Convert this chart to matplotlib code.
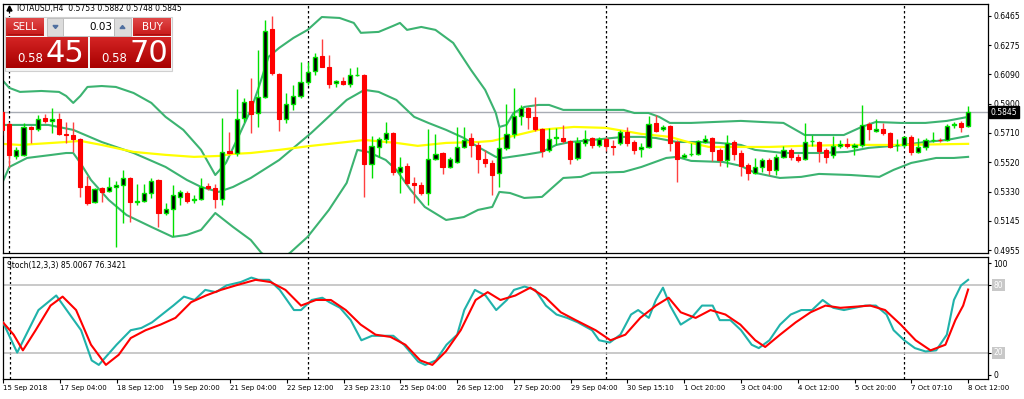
import matplotlib
matplotlib.use('Agg')
import matplotlib.pyplot as plt
import numpy as np
from matplotlib.patches import Rectangle, Polygon
import matplotlib.transforms as mtransforms

plt.rcParams['font.family'] = ['DejaVu Sans']

# ---------------- data ----------------
symbol_title = "IOTAUSD,H4  0.5753 0.5882 0.5748 0.5845"
opens = [0.5846, 0.5768, 0.5562, 0.5569, 0.5749, 0.5736, 0.5807, 0.5788, 0.5801, 0.5704,
         0.5697, 0.5672, 0.5368, 0.5265, 0.5355, 0.5336, 0.5362, 0.5375, 0.5420, 0.5268,
         0.5272, 0.5323, 0.5407, 0.5194, 0.5220, 0.5298, 0.5323, 0.5278, 0.5285, 0.5368,
         0.5355, 0.5285, 0.5594, 0.5581, 0.5807, 0.5917, 0.5839, 0.5943, 0.6381, 0.6091,
         0.5801, 0.5897, 0.5949, 0.6039, 0.6110, 0.6207, 0.6136, 0.6033, 0.6046, 0.6026,
         0.6081, 0.6085, 0.5510, 0.5620, 0.5672, 0.5710, 0.5459, 0.5498, 0.5388, 0.5375,
         0.5323, 0.5543, 0.5581, 0.5491, 0.5523, 0.5620, 0.5678, 0.5633, 0.5543, 0.5517,
         0.5453, 0.5614, 0.5704, 0.5820, 0.5872, 0.5814, 0.5736, 0.5601, 0.5675, 0.5678,
         0.5659, 0.5549, 0.5646, 0.5678, 0.5633, 0.5672, 0.5627, 0.5646, 0.5717, 0.5652,
         0.5607, 0.5620, 0.5775, 0.5736, 0.5756, 0.5652, 0.5556, 0.5572, 0.5575, 0.5652,
         0.5678, 0.5601, 0.5536, 0.5652, 0.5581, 0.5504, 0.5453, 0.5491, 0.5536, 0.5472,
         0.5556, 0.5601, 0.5556, 0.5543, 0.5656, 0.5652, 0.5601, 0.5569, 0.5627, 0.5640,
         0.5620, 0.5633, 0.5768, 0.5723, 0.5736, 0.5710, 0.5630, 0.5633, 0.5685, 0.5588,
         0.5620, 0.5662, 0.5668, 0.5665, 0.5762, 0.5775, 0.5753]
highs = [0.5859, 0.5781, 0.5620, 0.5775, 0.5756, 0.5826, 0.5833, 0.5872, 0.5839, 0.5781,
         0.5781, 0.5678, 0.5433, 0.5355, 0.5362, 0.5427, 0.5401, 0.5472, 0.5427, 0.5381,
         0.5381, 0.5420, 0.5414, 0.5259, 0.5375, 0.5343, 0.5336, 0.5310, 0.5420, 0.5388,
         0.5381, 0.5807, 0.5717, 0.5994, 0.5936, 0.6065, 0.6246, 0.6439, 0.6465, 0.6097,
         0.5968, 0.6020, 0.6168, 0.6168, 0.6226, 0.6317, 0.6213, 0.6052, 0.6072, 0.6130,
         0.6136, 0.6091, 0.5691, 0.5685, 0.5781, 0.5717, 0.5556, 0.5517, 0.5427, 0.5394,
         0.5736, 0.5704, 0.5588, 0.5556, 0.5749, 0.5749, 0.5710, 0.5652, 0.5601, 0.5536,
         0.5749, 0.5897, 0.6001, 0.5891, 0.5878, 0.5943, 0.5743, 0.5743, 0.5743, 0.5762,
         0.5665, 0.5685, 0.5730, 0.5685, 0.5685, 0.5685, 0.5665, 0.5730, 0.5749, 0.5665,
         0.5646, 0.5820, 0.5826, 0.5762, 0.5762, 0.5665, 0.5581, 0.5646, 0.5665, 0.5697,
         0.5685, 0.5614, 0.5697, 0.5665, 0.5601, 0.5517, 0.5549, 0.5549, 0.5549, 0.5575,
         0.5627, 0.5614, 0.5575, 0.5775, 0.5697, 0.5659, 0.5614, 0.5691, 0.5665, 0.5678,
         0.5646, 0.5891, 0.5781, 0.5801, 0.5775, 0.5717, 0.5672, 0.5691, 0.5697, 0.5678,
         0.5678, 0.5717, 0.5678, 0.5768, 0.5781, 0.5788, 0.5882]
lows = [0.5697, 0.5491, 0.5543, 0.5562, 0.5646, 0.5723, 0.5775, 0.5710, 0.5697, 0.5646,
        0.5588, 0.5298, 0.5246, 0.5259, 0.5265, 0.5330, 0.4975, 0.5130, 0.5136, 0.5246,
        0.5265, 0.5291, 0.5104, 0.5181, 0.5046, 0.5246, 0.5259, 0.5259, 0.5278, 0.5343,
        0.5227, 0.5246, 0.5575, 0.5562, 0.5781, 0.5710, 0.5749, 0.5936, 0.6085, 0.5723,
        0.5775, 0.5859, 0.5936, 0.6020, 0.6085, 0.6133, 0.6001, 0.6007, 0.6020, 0.6007,
        0.6078, 0.5298, 0.5420, 0.5556, 0.5646, 0.5439, 0.5323, 0.5375, 0.5259, 0.5310,
        0.5246, 0.5536, 0.5446, 0.5485, 0.5517, 0.5614, 0.5556, 0.5453, 0.5491, 0.5310,
        0.5362, 0.5601, 0.5678, 0.5762, 0.5736, 0.5723, 0.5556, 0.5588, 0.5633, 0.5646,
        0.5510, 0.5536, 0.5627, 0.5614, 0.5620, 0.5594, 0.5569, 0.5633, 0.5627, 0.5575,
        0.5556, 0.5614, 0.5717, 0.5723, 0.5594, 0.5394, 0.5549, 0.5562, 0.5569, 0.5646,
        0.5530, 0.5498, 0.5491, 0.5536, 0.5433, 0.5407, 0.5446, 0.5459, 0.5439, 0.5439,
        0.5549, 0.5536, 0.5523, 0.5536, 0.5627, 0.5523, 0.5517, 0.5549, 0.5614, 0.5614,
        0.5569, 0.5620, 0.5665, 0.5717, 0.5697, 0.5614, 0.5594, 0.5620, 0.5569, 0.5581,
        0.5601, 0.5652, 0.5652, 0.5659, 0.5743, 0.5717, 0.5748]
closes = [0.5730, 0.5569, 0.5601, 0.5749, 0.5736, 0.5801, 0.5788, 0.5801, 0.5704, 0.5694,
          0.5672, 0.5362, 0.5259, 0.5349, 0.5330, 0.5362, 0.5375, 0.5420, 0.5265, 0.5272,
          0.5323, 0.5401, 0.5194, 0.5220, 0.5310, 0.5330, 0.5272, 0.5285, 0.5362, 0.5355,
          0.5285, 0.5588, 0.5581, 0.5801, 0.5910, 0.5833, 0.5943, 0.6368, 0.6097, 0.5801,
          0.5897, 0.5949, 0.6039, 0.6104, 0.6201, 0.6136, 0.6026, 0.6046, 0.6026, 0.6085,
          0.6085, 0.5510, 0.5627, 0.5672, 0.5710, 0.5459, 0.5491, 0.5388, 0.5375, 0.5323,
          0.5543, 0.5575, 0.5491, 0.5543, 0.5620, 0.5665, 0.5633, 0.5543, 0.5517, 0.5439,
          0.5614, 0.5704, 0.5820, 0.5872, 0.5814, 0.5736, 0.5594, 0.5672, 0.5681, 0.5659,
          0.5543, 0.5652, 0.5672, 0.5633, 0.5672, 0.5627, 0.5620, 0.5717, 0.5646, 0.5601,
          0.5620, 0.5768, 0.5723, 0.5749, 0.5646, 0.5543, 0.5569, 0.5575, 0.5659, 0.5672,
          0.5594, 0.5536, 0.5646, 0.5575, 0.5498, 0.5453, 0.5491, 0.5536, 0.5472, 0.5556,
          0.5601, 0.5556, 0.5536, 0.5652, 0.5659, 0.5594, 0.5556, 0.5627, 0.5640, 0.5627,
          0.5633, 0.5762, 0.5736, 0.5736, 0.5710, 0.5620, 0.5633, 0.5685, 0.5588, 0.5620,
          0.5665, 0.5665, 0.5662, 0.5756, 0.5768, 0.5749, 0.5845]

# Bollinger bands: sample candle index and price
bb_up_idx = [0, 1, 2.5, 5.5, 8, 9, 10, 11, 12, 14, 16, 18.5, 21, 23, 25.5, 28, 30, 31.5, 33.5, 35,
             36, 37.5, 39, 41, 43, 45, 47.5, 49.5, 50.5, 53, 55, 56, 57, 59, 61, 63.5, 66, 68,
             69.5, 70, 71, 72, 73.5, 75.5, 77, 79, 87.5, 89, 91, 92.5, 94, 97, 104, 107, 110,
             113, 118.5, 121, 123, 126.5, 130, 133, 136]
bb_up = [0.6052, 0.6001, 0.5975, 0.5981, 0.5975, 0.5949, 0.5904, 0.5949, 0.6007, 0.6013, 0.6007,
         0.5968, 0.5904, 0.5814, 0.5730, 0.5601, 0.5439, 0.5517, 0.5710, 0.5859, 0.5988, 0.6201,
         0.6259, 0.6323, 0.6375, 0.6458, 0.6452, 0.6420, 0.6356, 0.6362, 0.6400, 0.6420, 0.6375,
         0.6394, 0.6375, 0.6291, 0.6117, 0.5988, 0.5839, 0.5749, 0.5762, 0.5839, 0.5878, 0.5891,
         0.5891, 0.5859, 0.5859, 0.5839, 0.5839, 0.5814, 0.5775, 0.5775, 0.5788, 0.5781, 0.5775,
         0.5697, 0.5697, 0.5749, 0.5781, 0.5775, 0.5775, 0.5788, 0.5814]
bb_mid_idx = [0, 6.5, 10, 14, 18.5, 23, 26, 28, 30.5, 32.5, 35, 39, 43.5, 48.5, 51, 53, 55.5, 58,
              60, 62.5, 65, 67, 69.5, 70.5, 73.5, 76, 78, 80, 83, 87.5, 90, 92, 95, 98, 101, 104,
              106, 110, 115, 119, 122, 127, 130, 133, 136]
bb_mid = [0.5762, 0.5762, 0.5730, 0.5652, 0.5581, 0.5491, 0.5407, 0.5362, 0.5330, 0.5362, 0.5420,
          0.5536, 0.5710, 0.5923, 0.5988, 0.5975, 0.5923, 0.5814, 0.5775, 0.5730, 0.5678, 0.5620,
          0.5556, 0.5549, 0.5569, 0.5588, 0.5633, 0.5652, 0.5665, 0.5685, 0.5685, 0.5678, 0.5652,
          0.5652, 0.5646, 0.5633, 0.5601, 0.5581, 0.5581, 0.5588, 0.5614, 0.5633, 0.5652, 0.5665,
          0.5691]
bb_low_idx = [0, 1, 3.5, 7, 9, 10, 11, 12.5, 15, 17.5, 21, 24, 26, 28, 30, 32.5, 35, 36.5, 38.5,
              40.5, 43, 46, 48.5, 50, 51.5, 54, 55.5, 57.5, 59.5, 62.5, 65, 67, 69, 70, 71.5, 73.5,
              76, 79, 81.5, 83, 87.5, 90, 93.5, 95, 97, 101.5, 104, 106, 109.5, 112.5, 115, 119.5,
              123.5, 125.5, 128, 131.5, 134, 136]
bb_low = [0.5388, 0.5491, 0.5549, 0.5569, 0.5581, 0.5581, 0.5517, 0.5407, 0.5278, 0.5181, 0.5104,
          0.5040, 0.5053, 0.5085, 0.5194, 0.5104, 0.5020, 0.4936, 0.4878, 0.4936, 0.5040, 0.5214,
          0.5388, 0.5601, 0.5588, 0.5536, 0.5472, 0.5343, 0.5233, 0.5149, 0.5168, 0.5214, 0.5233,
          0.5330, 0.5323, 0.5291, 0.5298, 0.5420, 0.5427, 0.5453, 0.5459, 0.5491, 0.5549, 0.5556,
          0.5530, 0.5523, 0.5498, 0.5453, 0.5420, 0.5427, 0.5446, 0.5439, 0.5427, 0.5472, 0.5517,
          0.5549, 0.5549, 0.5556]
ma_idx = [0, 2.5, 7, 9, 11, 14, 18.5, 23, 27, 30.5, 32.5, 35, 39, 43.5, 48.5, 51, 55.5, 58.5,
          62.5, 67, 69, 72.5, 75.5, 80.5, 85, 90, 94, 97, 99.5, 104, 108, 112.5, 119.5, 126.5, 136]
ma_val = [0.5640, 0.5633, 0.5646, 0.5652, 0.5659, 0.5633, 0.5588, 0.5569, 0.5556, 0.5562, 0.5575,
          0.5581, 0.5601, 0.5627, 0.5652, 0.5665, 0.5646, 0.5627, 0.5646, 0.5652, 0.5659, 0.5697,
          0.5730, 0.5749, 0.5743, 0.5704, 0.5685, 0.5646, 0.5620, 0.5620, 0.5620, 0.5627, 0.5633,
          0.5633, 0.5640]

# Stochastic (12,3,3)
st_main_idx = [0, 2, 5, 7.5, 11, 12.5, 13.5, 16, 18, 19.5, 21, 24, 25.5, 27, 28.5, 30, 31.5, 33.5,
               35, 36, 37.5, 39, 41, 42, 43.5, 45, 46, 47.5, 49, 50.5, 52, 53, 55, 56.5, 58.5,
               59.5, 61, 62.5, 64, 65, 66.5, 68, 69.5, 71, 72, 73.5, 75, 76.5, 78, 79.5, 81, 83,
               84, 85.5, 87, 88.5, 89.5, 91, 92, 93, 94, 95.5, 97, 98.5, 100, 101, 102.5, 104,
               105.5, 106.5, 108, 109.5, 111, 112.5, 114, 115.5, 117, 118.5, 120, 121.5, 123,
               124.5, 125.5, 127, 128.5, 130, 131.5, 133, 134, 135, 136]
st_main = [47, 20, 58, 71, 40, 13, 9, 27, 40, 42, 47, 62, 70, 67, 76, 74, 80, 83, 87, 85, 85, 76,
           58, 58, 67, 69, 65, 60, 49, 31, 35, 35, 35, 27, 12, 9, 13, 27, 36, 58, 76, 71, 58, 67,
           76, 79, 76, 62, 54, 51, 47, 40, 31, 29, 36, 54, 58, 51, 67, 78, 62, 45, 51, 62, 62,
           49, 49, 40, 27, 24, 31, 45, 54, 58, 58, 67, 60, 58, 60, 62, 62, 54, 40, 31, 24, 21,
           22, 36, 67, 80, 85.0067]
st_sig_idx = [0, 1.5, 2.8, 4.6, 6.7, 8.4, 10.3, 12.4, 14.5, 16.3, 18, 20.1, 22.2, 24.3, 26.5, 28.6,
              30.7, 32.8, 35.6, 37.7, 39.8, 42, 44.1, 46.2, 48.3, 50.4, 52.5, 54.6, 56.7, 58.8,
              60.5, 62.4, 64.5, 66.6, 68.3, 70.1, 72.2, 74.3, 76.5, 78.6, 80.7, 83.5, 85.6, 87.7,
              89.8, 92, 93.8, 95.5, 97.6, 99.7, 101.8, 103.9, 106, 107.4, 109.5, 111.7, 113.8,
              115.9, 118, 120.1, 122.2, 124.3, 126.5, 128.6, 130.7, 132.8, 134.2, 135.3, 136]
st_sig = [47, 36, 22, 40, 62, 70, 58, 27, 9, 18, 33, 40, 45, 51, 65, 71, 76, 80, 85, 83, 76, 62,
          67, 67, 58, 45, 36, 34, 27, 13, 9, 21, 40, 67, 74, 67, 71, 78, 69, 56, 49, 40, 31, 36,
          51, 62, 69, 56, 51, 58, 54, 45, 31, 25, 36, 47, 56, 62, 60, 61, 62, 58, 45, 31, 22,
          27, 49, 62, 76.3421]

price_ticks = [0.6465, 0.6275, 0.6090, 0.5900, 0.5710, 0.5520, 0.5330, 0.5145, 0.4955]
time_labels = ["15 Sep 2018", "17 Sep 04:00", "18 Sep 12:00", "19 Sep 20:00", "21 Sep 04:00",
               "22 Sep 12:00", "23 Sep 23:10", "25 Sep 04:00", "26 Sep 12:00", "27 Sep 20:00",
               "29 Sep 04:00", "30 Sep 15:10", "1 Oct 20:00", "3 Oct 04:00", "4 Oct 12:00",
               "5 Oct 20:00", "7 Oct 07:10", "8 Oct 12:00"]
week_separators = [1, 43, 85, 127]
current_price = 0.5845
stoch_title = "Stoch(12,3,3) 85.0067 76.3421"

# ---------------- figure ----------------
W, H = 1024, 399
fig = plt.figure(figsize=(W / 100, H / 100), dpi=100, facecolor='white')

def fx(px):
    return px / W

def fy(py):
    return 1 - py / H

L, R = 3, 988
ax = fig.add_axes([fx(L), fy(253), fx(R - L), fy(4) - fy(253)])
ax2 = fig.add_axes([fx(L), fy(379), fx(R - L), fy(257) - fy(379)])

n = len(opens)
x = np.arange(n)
o = np.array(opens); h = np.array(highs); lo = np.array(lows); c = np.array(closes)
bull = c >= o

xmin, xmax = 0.11, 138.8
GREEN = '#00e000'
RED = '#ff0000'

# wicks
ax.vlines(x[bull], lo[bull], h[bull], color=GREEN, lw=1.0, zorder=3)
ax.vlines(x[~bull], lo[~bull], h[~bull], color='#ff4040', lw=1.0, zorder=3)
# bodies
bw = 0.58
body_bot = np.minimum(o, c)
body_h = np.maximum(np.abs(c - o), 0.00035)
ax.bar(x[bull], body_h[bull], bottom=body_bot[bull], width=bw, color='black',
       edgecolor=GREEN, linewidth=1.0, zorder=4)
ax.bar(x[~bull], body_h[~bull], bottom=body_bot[~bull], width=bw, color=RED,
       edgecolor=RED, linewidth=0.8, zorder=4)

BB = '#3cb371'
ax.plot(bb_up_idx, bb_up, color=BB, lw=1.5, zorder=2)
ax.plot(bb_mid_idx, bb_mid, color=BB, lw=1.5, zorder=2)
ax.plot(bb_low_idx, bb_low, color=BB, lw=1.5, zorder=2)
ax.plot(ma_idx, ma_val, color='#ffff00', lw=1.6, zorder=2)

ax.axhline(current_price, color='#a8acb4', lw=1.0, zorder=1)

for sx in week_separators:
    for a in (ax, ax2):
        a.axvline(sx, color='black', lw=0.9, ls=(0, (2, 2)), zorder=1)

ax.set_xlim(xmin, xmax)
ax.set_ylim(0.4936, 0.6542)
ax.set_xticks([])
ax.yaxis.tick_right()
ax.set_yticks(price_ticks)
ax.set_yticklabels([f"{t:.4f}" for t in price_ticks], fontsize=5.5)
ax.tick_params(axis='y', direction='out', length=2.5, width=0.8, pad=1.5, colors='black')

# current price tag
trans = mtransforms.blended_transform_factory(ax.transAxes, ax.transData)
ax.text(1.003, current_price, "0.5845", transform=trans, fontsize=5.5, color='white',
        va='center', ha='left', zorder=10,
        bbox=dict(boxstyle='square,pad=0.25', facecolor='black', edgecolor='black'))

# stochastic panel
ax2.axhline(80, color='#c0c0c0', lw=1.2, zorder=1)
ax2.axhline(20, color='#c0c0c0', lw=1.2, zorder=1)
ax2.plot(st_main_idx, st_main, color='#20b2aa', lw=1.5, zorder=3)
ax2.plot(st_sig_idx, st_sig, color=RED, lw=1.5, zorder=4)
ax2.set_xlim(xmin, xmax)
ax2.set_ylim(-3.6, 105.4)
ax2.yaxis.tick_right()
ax2.set_yticks([100, 80, 20, 0])
ax2.set_yticklabels(['100', '', '', '0'], fontsize=5.5)
ax2.tick_params(axis='y', direction='out', length=2.5, width=0.8, pad=1.5)
trans2 = mtransforms.blended_transform_factory(ax2.transAxes, ax2.transData)
for lev in (80, 20):
    ax2.text(1.006, lev, str(lev), transform=trans2, fontsize=5.5, color='white',
             va='center', ha='left',
             bbox=dict(boxstyle='square,pad=0.2', facecolor='#c8c8c8', edgecolor='none'))
ax2.set_xticks(np.arange(0, n, 8))
ax2.set_xticklabels(time_labels, fontsize=5, ha='left')
ax2.tick_params(axis='x', direction='out', length=3, width=0.8, pad=1)
ax2.text(0.004, 0.97, stoch_title, transform=ax2.transAxes, fontsize=5.5, va='top', ha='left')

for a in (ax, ax2):
    for s in a.spines.values():
        s.set_color('black'); s.set_linewidth(0.9)
    a.set_facecolor('white')

# ---------------- overlay (title + trade panel) ----------------
ov = fig.add_axes([0, 0, 1, 1], zorder=20)
ov.set_xlim(0, W); ov.set_ylim(H, 0); ov.axis('off'); ov.patch.set_alpha(0)

ov.add_patch(Polygon([[7, 11], [12, 11], [9.5, 6]], closed=True, color='black'))
ov.text(17, 8.5, symbol_title, fontsize=5.5, va='center', ha='left')

def grad_rect(x0, y0, w, hgt, top, bot):
    g = np.linspace(0, 1, 50)[:, None]
    ct = np.array(matplotlib.colors.to_rgb(top)); cb = np.array(matplotlib.colors.to_rgb(bot))
    img = (ct[None, None, :] * (1 - g[..., None]) + cb[None, None, :] * g[..., None])
    img = np.repeat(img, 2, axis=1)
    ov.imshow(img, extent=(x0, x0 + w, y0 + hgt, y0), aspect='auto', zorder=1, interpolation='bilinear')

ov.add_patch(Rectangle((5, 17), 167, 54, facecolor='#f4f4f4', edgecolor='#d0d0d0', lw=0.8, zorder=0.5))
grad_rect(6, 18, 38, 18, '#e04848', '#c81818')
grad_rect(133, 18, 38, 18, '#e04848', '#c81818')
grad_rect(6, 37, 82, 31, '#d42424', '#a80000')
grad_rect(90, 37, 81, 31, '#d42424', '#a80000')
ov.add_patch(Rectangle((47, 18), 16, 18, facecolor='#dcdcdc', edgecolor='#b8b8b8', lw=0.6, zorder=2))
ov.add_patch(Rectangle((63, 18), 51, 18, facecolor='white', edgecolor='#b8b8b8', lw=0.6, zorder=2))
ov.add_patch(Rectangle((114, 18), 17, 18, facecolor='#dcdcdc', edgecolor='#b8b8b8', lw=0.6, zorder=2))
ov.add_patch(Polygon([[53, 25.5], [58, 25.5], [55.5, 28.5]], closed=True, color='#5070a0', zorder=3))
ov.add_patch(Polygon([[120, 28.5], [125, 28.5], [122.5, 25.5]], closed=True, color='#5070a0', zorder=3))
ov.plot([8, 42], [33.5, 33.5], color='#a01010', lw=0.6, zorder=3)
ov.plot([135, 169], [33.5, 33.5], color='#a01010', lw=0.6, zorder=3)
ov.text(25, 26.5, "SELL", fontsize=7.5, color='white', ha='center', va='center', zorder=4)
ov.text(152, 26.5, "BUY", fontsize=7.5, color='white', ha='center', va='center', zorder=4)
ov.text(112, 27, "0.03", fontsize=7.5, color='black', ha='right', va='center', zorder=4)
ov.text(43, 58, "0.58", fontsize=8.5, color='white', ha='right', va='center', zorder=4)
ov.text(46, 53, "45", fontsize=22, color='white', ha='left', va='center', zorder=4)
ov.text(127, 58, "0.58", fontsize=8.5, color='white', ha='right', va='center', zorder=4)
ov.text(130, 53, "70", fontsize=22, color='white', ha='left', va='center', zorder=4)
ov.set_xlim(0, W); ov.set_ylim(H, 0)

fig.savefig('out.png', dpi=100, facecolor='white')
